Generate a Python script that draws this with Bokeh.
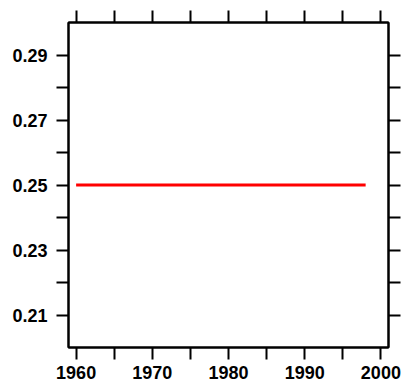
from bokeh.plotting import figure
from bokeh.models import LinearAxis, FixedTicker, Range1d
from bokeh.embed import file_html
from bokeh.resources import INLINE

years = [1960, 1961, 1962, 1963, 1964, 1965, 1966, 1967, 1968, 1969,
         1970, 1971, 1972, 1973, 1974, 1975, 1976, 1977, 1978, 1979,
         1980, 1981, 1982, 1983, 1984, 1985, 1986, 1987, 1988, 1989,
         1990, 1991, 1992, 1993, 1994, 1995, 1996, 1997, 1998]
values = [0.25, 0.25, 0.25, 0.25, 0.25, 0.25, 0.25, 0.25, 0.25, 0.25,
          0.25, 0.25, 0.25, 0.25, 0.25, 0.25, 0.25, 0.25, 0.25, 0.25,
          0.25, 0.25, 0.25, 0.25, 0.25, 0.25, 0.25, 0.25, 0.25, 0.25,
          0.25, 0.25, 0.25, 0.25, 0.25, 0.25, 0.25, 0.25, 0.25]

x_ticks = [1960, 1965, 1970, 1975, 1980, 1985, 1990, 1995, 2000]
x_labels = ["1960", "", "1970", "", "1980", "", "1990", "", "2000"]
y_ticks = [0.21, 0.22, 0.23, 0.24, 0.25, 0.26, 0.27, 0.28, 0.29]
y_labels = ["0.21", "", "0.23", "", "0.25", "", "0.27", "", "0.29"]

FONT = "Liberation Sans"

p = figure(width=404, height=384, output_backend="svg", toolbar_location=None,
           x_range=Range1d(1959, 2001), y_range=Range1d(0.20, 0.30),
           x_axis_location=None, y_axis_location=None,
           min_border_left=68, min_border_right=16,
           min_border_top=22, min_border_bottom=37)
p.xgrid.visible = False
p.ygrid.visible = False
p.outline_line_color = "black"
p.outline_line_width = 2
p.background_fill_color = "white"
p.border_fill_color = "white"

p.line(years, values, line_color="#ff0000", line_width=3)


def style(ax, labels_on, overrides, standoff=9):
    ax.axis_line_width = 2
    ax.axis_line_color = "black"
    ax.major_tick_line_width = 2
    ax.major_tick_line_color = "black"
    ax.major_tick_out = 12
    ax.major_tick_in = 0
    ax.minor_tick_line_color = None
    ax.major_label_overrides = overrides
    ax.major_label_standoff = standoff
    if labels_on:
        ax.major_label_text_font = FONT
        ax.major_label_text_font_style = "bold"
        ax.major_label_text_font_size = "18px"
        ax.major_label_text_color = "black"
    else:
        ax.major_label_text_font_size = "0px"
        ax.major_label_standoff = 0


xo = {t: l for t, l in zip(x_ticks, x_labels)}
yo = {t: l for t, l in zip(y_ticks, y_labels)}
xo_blank = {t: "" for t in x_ticks}
yo_blank = {t: "" for t in y_ticks}

bottom = LinearAxis(ticker=FixedTicker(ticks=x_ticks))
style(bottom, True, xo, standoff=6)
p.add_layout(bottom, "below")
top = LinearAxis(ticker=FixedTicker(ticks=x_ticks))
style(top, False, xo_blank)
p.add_layout(top, "above")
left = LinearAxis(ticker=FixedTicker(ticks=y_ticks))
style(left, True, yo, standoff=9)
p.add_layout(left, "left")
right = LinearAxis(ticker=FixedTicker(ticks=y_ticks))
style(right, False, yo_blank)
p.add_layout(right, "right")

open("out.html", "w").write(file_html(p, INLINE))
